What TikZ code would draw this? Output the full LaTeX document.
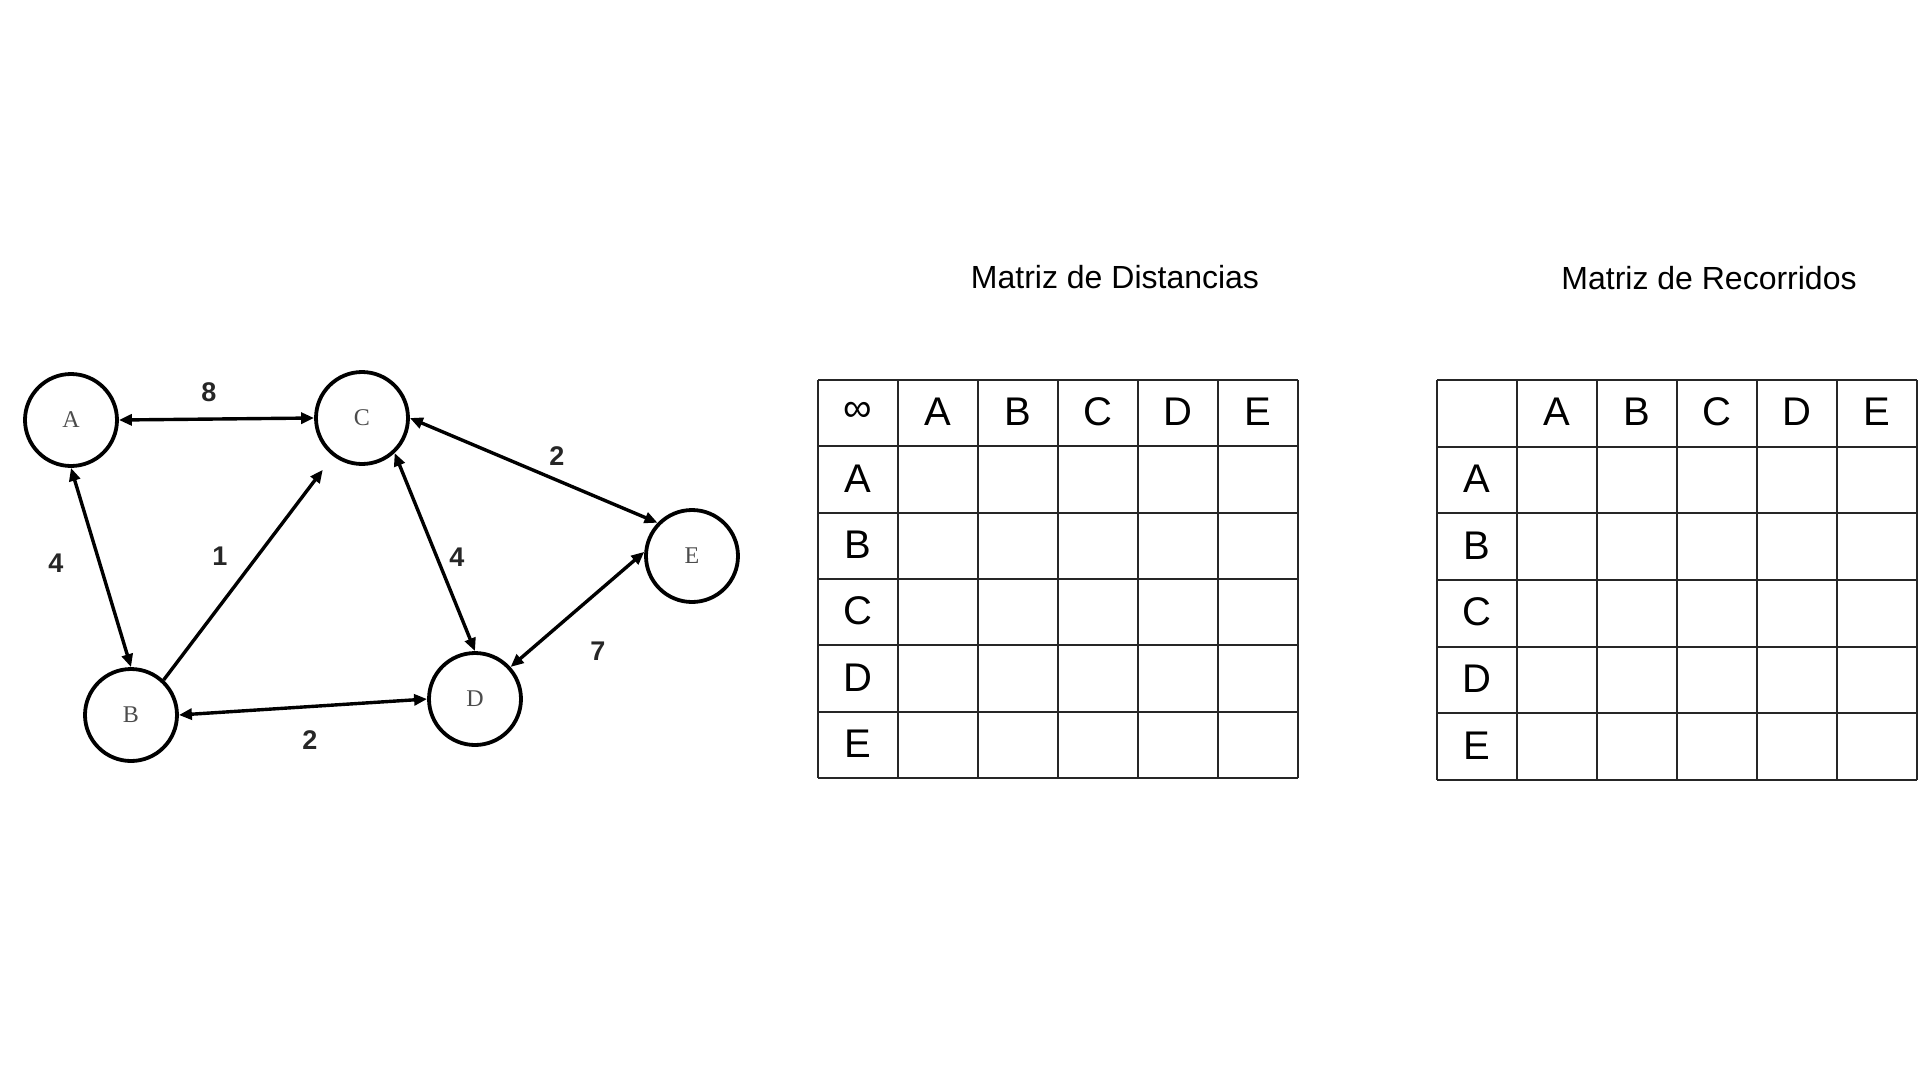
\documentclass[tikz,border=0pt]{standalone}
\usepackage{fontspec}
\setmainfont{Liberation Sans}
\newfontfamily\romfont{Liberation Serif}
\usetikzlibrary{arrows.meta}
\tikzset {>={Triangle[length=13pt,width=11pt]}}
\newcommand*{\cel}[1]{\fontsize{40}{48}\selectfont #1}
\newcommand*{\ttl}[1]{\fontsize{32}{38}\selectfont #1}

\begin{document}
\begin{tikzpicture}[x=1pt,y=-1pt,
  vertex/.style={draw,circle,line width=3.8pt,minimum size=92pt,inner sep=0pt,
    font=\romfont\fontsize{24}{28}\selectfont,text=black!70},
  edge/.style={line width=3.4pt},
  wt/.style={font=\bfseries\fontsize{27}{32}\selectfont,text=black!85},
  tab/.style={line width=2pt,black!85}]
\useasboundingbox (0,0) rectangle (1920,1080);
% graph
\node[vertex] (A) at (71,420) {A};
\node[vertex] (C) at (362,418) {C};
\node[vertex] (B) at (131,715) {B};
\node[vertex] (D) at (475,699) {D};
\node[vertex] (E) at (692,556) {E};
\draw[edge,<->] (A.east) -- (C.west);
\draw[edge,<->] (A.south) -- (B.north);
\draw[edge,->,shorten >=17pt] (B.47) -- (C);
\draw[edge,<->] (B.east) -- (D.west);
\draw[edge,<->] (C.-47) -- (D.north);
\draw[edge,<->] (C.east) -- (E.136);
\draw[edge,<->] (D.42) -- (E.175);
\node[wt] (wAC) at (209,392) {8};
\node[wt] (wAB) at (56,563) {4};
\node[wt] (wBC) at (220,556) {1};
\node[wt] (wBD) at (310,740) {2};
\node[wt] (wCE) at (557,456) {2};
\node[wt] (wCD) at (457,557) {4};
\node[wt] (wDE) at (598,651) {7};
% distance matrix
\node (tdist) at (1115,277) {\ttl{Matriz de Distancias}};
\foreach \i in {0,...,6} {
  \draw[tab] (818+80*\i,380) -- (818+80*\i,778);
  \draw[tab] (818,380+66.33*\i) -- (1298,380+66.33*\i);
}
\node (dinf) at (858,412) {\cel{∞}};
\foreach \l [count=\i] in {A,B,C,D,E} {
  \node (dh\l) at (858+80*\i,412) {\cel{\l}};
  \node (dr\l) at (858,412+66.33*\i) {\cel{\l}};
}
% path matrix
\node (trec) at (1709,278) {\ttl{Matriz de Recorridos}};
\foreach \i in {0,...,6} {
  \draw[tab] (1437+80*\i,380) -- (1437+80*\i,780);
  \draw[tab] (1437,380+66.67*\i) -- (1917,380+66.67*\i);
}
\foreach \l [count=\i] in {A,B,C,D,E} {
  \node (rh\l) at (1477+80*\i,412) {\cel{\l}};
  \node (rr\l) at (1477,412+66.67*\i) {\cel{\l}};
}
\end{tikzpicture}
\end{document}
